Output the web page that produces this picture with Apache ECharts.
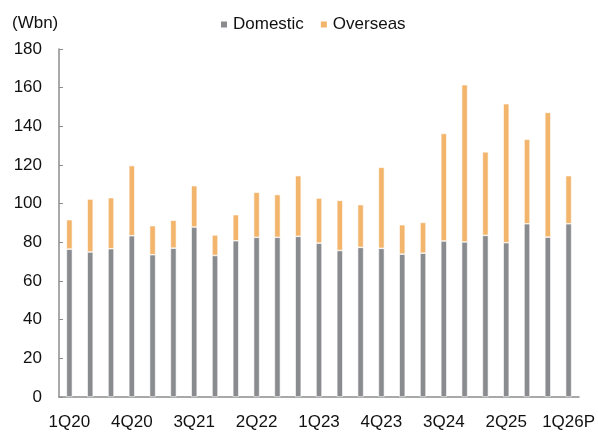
<!DOCTYPE html>
<html>
<head>
<meta charset="utf-8">
<script src="https://cdn.jsdelivr.net/npm/echarts@6/dist/echarts.min.js"></script>
<style>
  html, body { margin: 0; padding: 0; background: #fff; }
  #chart { width: 598px; height: 434px; }
</style>
</head>
<body>
<div id="chart"></div>
<script>
// Quarterly revenue split, W bn
const quarters = ['1Q20','2Q20','3Q20','4Q20','1Q21','2Q21','3Q21','4Q21',
  '1Q22','2Q22','3Q22','4Q22','1Q23','2Q23','3Q23','4Q23',
  '1Q24','2Q24','3Q24','4Q24','1Q25','2Q25','3Q25','4Q25','1Q26P'];
const domestic = [76.5, 75.0, 76.7, 83.4, 73.6, 77.0, 87.9, 73.2,
  80.8, 82.6, 82.6, 83.1, 79.6, 75.8, 77.4, 76.9,
  73.9, 74.4, 80.7, 80.2, 83.6, 79.8, 89.6, 82.7, 89.6];
const overseas = [15.2, 27.4, 26.4, 36.3, 15.0, 14.4, 21.4, 10.6,
  13.5, 23.3, 22.1, 31.4, 23.3, 25.9, 22.1, 41.9,
  15.2, 15.9, 55.6, 81.3, 43.2, 71.9, 43.7, 64.5, 24.9];
const yTicks = [0, 20, 40, 60, 80, 100, 120, 140, 160, 180];

const FONT = '"Liberation Sans", Arial, sans-serif';
const FS = 17;
const GRAY = '#898b8e';
const ORANGE = '#f3b46b';

const chart = echarts.init(document.getElementById('chart'), null, { renderer: 'canvas' });
chart.setOption({
  animation: false,
  backgroundColor: '#fff',
  title: {
    text: '(Wbn)', left: 7, top: 10,
    textStyle: { fontFamily: FONT, fontSize: FS, fontWeight: 'normal', color: '#111' }
  },
  legend: {
    top: 11, left: 214,
    itemWidth: 8, itemHeight: 8, itemGap: 15,
    icon: 'rect',
    textStyle: { fontFamily: FONT, fontSize: FS, color: '#111' },
    data: ['Domestic', 'Overseas']
  },
  grid: { left: 59, right: 15, top: 49, bottom: 37, containLabel: false },
  xAxis: {
    type: 'category',
    data: quarters,
    boundaryGap: true,
    axisLine: { lineStyle: { color: '#8c8c8c', width: 1.5 } },
    axisTick: { inside: true, length: 5, lineStyle: { color: '#8c8c8c' } },
    axisLabel: {
      interval: 2, margin: 17,
      fontFamily: FONT, fontSize: FS, color: '#111'
    }
  },
  yAxis: {
    type: 'value',
    min: yTicks[0], max: yTicks[yTicks.length - 1], interval: yTicks[1] - yTicks[0],
    axisLine: { show: true, lineStyle: { color: '#8c8c8c', width: 1.5 } },
    axisTick: { show: true, inside: true, length: 4, lineStyle: { color: '#8c8c8c' } },
    splitLine: { show: false },
    axisLabel: { margin: 17, fontFamily: FONT, fontSize: FS, color: '#111' }
  },
  series: [
    {
      name: 'Domestic', type: 'bar', stack: 'total', data: domestic,
      barWidth: 6,
      itemStyle: { color: GRAY, borderColor: '#fff', borderWidth: 0.6 }
    },
    {
      name: 'Overseas', type: 'bar', stack: 'total', data: overseas,
      barWidth: 6,
      itemStyle: { color: ORANGE, borderColor: '#fff', borderWidth: 0.6 }
    }
  ]
});
</script>
</body>
</html>
